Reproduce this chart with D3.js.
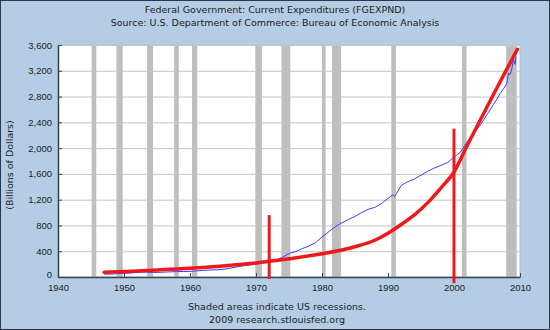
<!DOCTYPE html>
<html>
<head>
<meta charset="utf-8">
<script src="https://cdn.jsdelivr.net/npm/d3@7"></script>
<style>
  body { margin: 0; }
  svg { display: block; font-family: "DejaVu Sans", Verdana, sans-serif; }
</style>
</head>
<body>
<div id="chart"></div>
<script>
// recession periods (start, end)
const recessionStart = [1945.1, 1948.85, 1953.5, 1957.6, 1960.3, 1969.9, 1973.85, 1980.0, 1981.5, 1990.5, 2001.2, 2007.9];
const recessionEnd   = [1945.8, 1949.8, 1954.4, 1958.3, 1961.1, 1970.9, 1975.2, 1980.55, 1982.9, 1991.2, 2001.9, 2009.5];

// federal current expenditures, billions of dollars
const spendYears = [1947, 1948, 1949, 1950, 1951, 1952, 1953, 1954, 1955, 1956, 1957, 1958, 1959,
  1960, 1961, 1962, 1963, 1964, 1965, 1966, 1967, 1968, 1969, 1970, 1971, 1972, 1973, 1974,
  1975, 1976, 1977, 1978, 1979, 1980, 1981, 1982, 1983, 1984, 1985, 1986, 1987, 1988, 1989,
  1990, 1990.7, 1991.0, 1991.3, 1992, 1993, 1994, 1995, 1996, 1997, 1998, 1999, 2000, 2001,
  2002, 2003, 2004, 2005, 2006, 2006.5, 2007, 2007.5, 2008, 2008.25, 2008.5, 2008.75, 2009,
  2009.25, 2009.4];
const spendValues = [45, 45, 52, 55, 62, 72, 76, 72, 72, 75, 80, 84, 86,
  88, 95, 102, 108, 112, 119, 135, 155, 172, 185, 200, 222, 248, 265, 305,
  365, 395, 440, 480, 530, 620, 700, 780, 840, 890, 940, 1000, 1050, 1080, 1140,
  1220, 1275, 1250, 1300, 1420, 1480, 1520, 1580, 1640, 1690, 1730, 1775, 1860, 1940,
  2100, 2230, 2360, 2520, 2680, 2760, 2850, 2920, 3000, 3160, 3140, 3230, 3380,
  3300, 3420];

// hand drawn growth curve
const trendYears  = [1947, 1950, 1955, 1960, 1965, 1970, 1975, 1980, 1985, 1988, 1990, 1992, 1994, 1996, 1998, 2000, 2002, 2004, 2006, 2008, 2009.6];
const trendValues = [72, 85, 108, 135, 172, 218, 282, 360, 470, 570, 680, 815, 965, 1150, 1380, 1630, 2040, 2440, 2835, 3225, 3534];

// vertical marker strokes
const markerYears  = [1972, 2000];
const markerTop    = [960, 2300];
const markerBottom = [-30, -95];

const xTicks = [1940, 1950, 1960, 1970, 1980, 1990, 2000, 2010];
const yTicks = [0, 400, 800, 1200, 1600, 2000, 2400, 2800, 3200, 3600];

const width = 550, height = 330;
const margin = { top: 45, right: 30, bottom: 53, left: 58 };

const svg = d3.select("#chart").append("svg")
  .attr("width", width)
  .attr("height", height);

svg.append("rect")
  .attr("x", 0.5).attr("y", 0.5)
  .attr("width", width - 1).attr("height", height - 1)
  .attr("fill", "#b4cde5")
  .attr("stroke", "#2a3a4c");

const x = d3.scaleLinear()
  .domain([1940, 2010])
  .range([margin.left, width - margin.right]);

const y = d3.scaleLinear()
  .domain([0, 3600])
  .range([height - margin.bottom, margin.top]);

// plot area
svg.append("rect")
  .attr("x", x(1940)).attr("y", y(3600))
  .attr("width", x(2010) - x(1940)).attr("height", y(0) - y(3600))
  .attr("fill", "#fff")
  .attr("stroke", "#a9c0d8");

// recession bands
svg.append("g").selectAll("rect")
  .data(recessionStart.map((s, i) => [s, recessionEnd[i]]))
  .join("rect")
  .attr("x", d => x(d[0]))
  .attr("y", y(3600))
  .attr("width", d => Math.max(3, x(d[1]) - x(d[0])))
  .attr("height", y(0) - y(3600))
  .attr("fill", "#bebebe");

// horizontal grid
svg.append("g").selectAll("line")
  .data(yTicks.slice(1))
  .join("line")
  .attr("x1", x(1940)).attr("x2", x(2010))
  .attr("y1", d => y(d) + 0.5).attr("y2", d => y(d) + 0.5)
  .attr("stroke", "#c4c4c4");

// axes
const yAxis = svg.append("g")
  .attr("transform", `translate(${x(1940)},0)`)
  .call(d3.axisLeft(y).tickValues(yTicks).tickFormat(d3.format(",")).tickSizeInner(-4).tickSizeOuter(0).tickPadding(6));

const xAxis = svg.append("g")
  .attr("transform", `translate(0,${y(0)})`)
  .call(d3.axisBottom(x).tickValues(xTicks).tickFormat(d3.format("d")).tickSizeInner(-4).tickSizeOuter(0).tickPadding(7));

[yAxis, xAxis].forEach(a => {
  a.select(".domain").attr("stroke", "#3a4450").attr("stroke-width", 1.5);
  a.selectAll(".tick line").attr("stroke", "#3a4450");
  a.selectAll("text").attr("fill", "#222").style("font-size", "9.5px");
});

// the zero label sits a little higher so it clears the first year label
yAxis.selectAll(".tick text").filter(d => d === 0).attr("dy", "0.1em");

// spending series
svg.append("path")
  .datum(spendYears.map((yr, i) => [yr, spendValues[i]]))
  .attr("fill", "none")
  .attr("stroke", "#3a3aff")
  .attr("stroke-width", 1)
  .attr("d", d3.line().x(d => x(d[0])).y(d => y(d[1])));

// red growth curve
svg.append("path")
  .datum(trendYears.map((yr, i) => [yr, trendValues[i]]))
  .attr("fill", "none")
  .attr("stroke", "#f01818")
  .attr("stroke-width", 3.5)
  .attr("stroke-linecap", "round")
  .attr("d", d3.line().curve(d3.curveMonotoneX).x(d => x(d[0])).y(d => y(d[1])));

svg.append("g").selectAll("line")
  .data(markerYears.map((yr, i) => [yr, markerBottom[i], markerTop[i]]))
  .join("line")
  .attr("x1", d => x(d[0])).attr("x2", d => x(d[0]))
  .attr("y1", d => y(d[1])).attr("y2", d => y(d[2]))
  .attr("stroke", "#f01818")
  .attr("stroke-width", 3);

// titles
svg.append("text")
  .attr("x", 275).attr("y", 13)
  .attr("text-anchor", "middle")
  .attr("fill", "#222")
  .style("font-size", "9.5px")
  .text("Federal Government: Current Expenditures (FGEXPND)");

svg.append("text")
  .attr("x", 275).attr("y", 26)
  .attr("text-anchor", "middle")
  .attr("fill", "#222")
  .style("font-size", "9.5px")
  .text("Source: U.S. Department of Commerce: Bureau of Economic Analysis");

svg.append("text")
  .attr("transform", `translate(13,${(y(0) + y(3600)) / 2 + 4}) rotate(-90)`)
  .attr("text-anchor", "middle")
  .attr("fill", "#222")
  .style("font-size", "9.5px")
  .text("(Billions of Dollars)");

svg.append("text")
  .attr("x", 277).attr("y", 310)
  .attr("text-anchor", "middle")
  .attr("fill", "#222")
  .style("font-size", "9.5px")
  .text("Shaded areas indicate US recessions.");

svg.append("text")
  .attr("x", 277).attr("y", 323)
  .attr("text-anchor", "middle")
  .attr("fill", "#222")
  .style("font-size", "9.5px")
  .text("2009 research.stlouisfed.org");
</script>
</body>
</html>
